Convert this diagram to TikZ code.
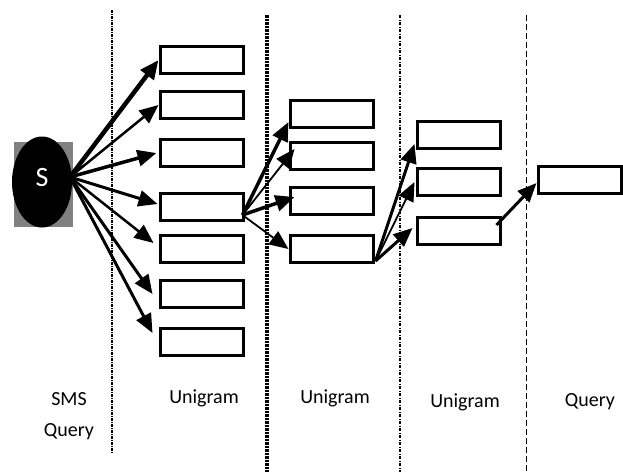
\documentclass[tikz,border=0pt]{standalone}
\usepackage{fontspec}
\setmainfont{Carlito}
\usetikzlibrary{arrows.meta,shapes.geometric}

\tikzset{
  wordbox/.style={draw, line width=3pt, fill=white, minimum width=83pt, minimum height=27pt, inner sep=0pt},
  link/.style={line width=#1, -{Triangle[length=19pt,width=16pt]}},
  colname/.style={font=\fontsize{20}{31}\selectfont, align=center},
}

\begin{document}
\begin{tikzpicture}[x=1pt,y=-1pt]
            \useasboundingbox (0,0) rectangle (623,472);

            % column separators
            \draw[line width=2.5pt, dash pattern=on 3pt off 1pt on 1pt off 1pt] (112,10) -- (112,453);
            \draw[line width=3.5pt, dash pattern=on 2.5pt off 1pt] (267,15) -- (267,472);
            \draw[line width=2pt, dash pattern=on 3pt off 1.5pt on 1pt off 1.5pt] (400,15) -- (400,472);
            \draw[line width=1pt, dash pattern=on 6pt off 3pt] (526,15) -- (526,472);

            % SMS token
            \fill[gray] (14,142) rectangle (73,227);
            \node[ellipse, fill=black, minimum width=60pt, minimum height=91pt, inner sep=0pt] (s) at (42,182) {};
            \node[text=white, font=\fontsize{28}{28}\selectfont] (slabel) at (42,178) {S};
            \coordinate (sout) at (70,177);

            % first unigram column
            \foreach \i/\y in {1/60,2/105,3/153,4/207,5/249,6/294,7/342} {
              \node[wordbox] (u\i) at (201.5,\y) {};
            }
            % second unigram column
            \foreach \i/\y in {1/114,2/156,3/201,4/249} {
              \node[wordbox] (v\i) at (331.5,\y) {};
            }
            % third unigram column
            \foreach \i/\y in {1/135,2/182,3/231} {
              \node[wordbox] (w\i) at (458.5,\y) {};
            }
            % query
            \node[wordbox] (q) at (579.5,180) {};

            % arrows from S
            \foreach \i/\dx/\dy/\lw in {1/0/0/4.5pt,2/0/0/2.5pt,3/-2/0/3.5pt,4/-1/3/3pt,5/-5/6/2.5pt,6/-6/0/3pt,7/-6/9/3pt} {
              \draw[link=\lw] (sout) -- ([xshift=\dx pt,yshift=\dy pt]u\i.west);
            }

            % arrows to second column
            \coordinate (u4out) at ([xshift=-2pt,yshift=7pt]u4.south east);
            \draw[link=3.5pt] (u4out) -- ([yshift=-8pt]v1.west);
            \draw[link=1.8pt] (u4out) -- ([xshift=6pt,yshift=7pt]v2.west);
            \draw[link=3.5pt] (u4out) -- ([xshift=6pt,yshift=4pt]v3.west);
            \draw[link=1.8pt] (u4out) -- (v4.west);

            % arrows to third column
            \coordinate (v4out) at ([xshift=1pt,yshift=3pt]v4.south east);
            \draw[link=3pt] (v4out) -- ([xshift=-1pt,yshift=-9pt]w1.west);
            \draw[link=1.8pt] (v4out) -- ([xshift=-1pt]w2.west);
            \draw[link=3pt] (v4out) -- ([xshift=-3pt,yshift=3pt]w3.west);

            % arrow to query
            \coordinate (w3out) at ([xshift=-5pt,yshift=-9pt]w3.north east);
            \draw[link=3pt] (w3out) -- ([yshift=-3pt]q.west);

            % column labels
            \node[colname] (lsms) at (69,416) {SMS\\Query};
            \node[colname] (luni1) at (204,398) {Unigram};
            \node[colname] (luni2) at (335,398) {Unigram};
            \node[colname] (luni3) at (465,402) {Unigram};
            \node[colname] (lquery) at (590,402) {Query};
\end{tikzpicture}
\end{document}
